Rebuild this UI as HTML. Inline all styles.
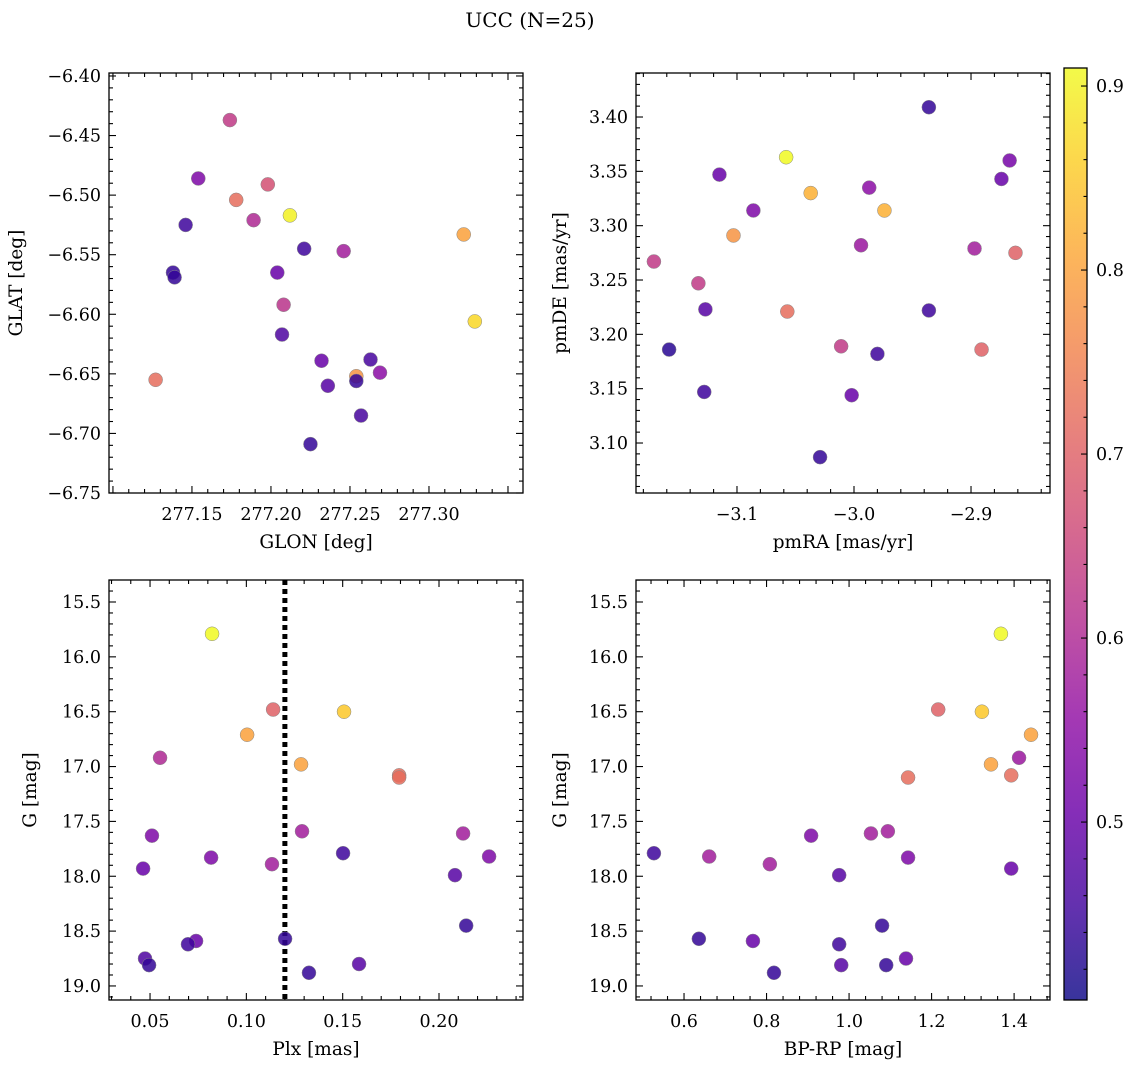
<!DOCTYPE html>
<html><head><meta charset="utf-8">
<style>
html,body{margin:0;padding:0;background:#fff;}
svg{display:block;font-family:"DejaVu Serif","Liberation Serif",serif;}
</style></head>
<body>
<svg id="fig" width="1136" height="1068" xmlns="http://www.w3.org/2000/svg">
<text x="530" y="27" font-size="20" text-anchor="middle">UCC (N=25)</text>
</svg>
<script>
// Panel 1: GLON vs GLAT
const glon = [277.174,277.154,277.178,277.198,277.189,277.212,277.146,277.138,277.139,277.221,277.246,277.322,277.204,277.208,277.207,277.329,277.127,277.232,277.263,277.254,277.269,277.254,277.236,277.257,277.225];
const glat = [-6.437,-6.486,-6.504,-6.491,-6.521,-6.517,-6.525,-6.565,-6.569,-6.545,-6.547,-6.533,-6.565,-6.592,-6.617,-6.606,-6.655,-6.639,-6.638,-6.652,-6.649,-6.656,-6.660,-6.685,-6.709];
const prob1 = [0.63,0.53,0.72,0.67,0.60,0.90,0.45,0.44,0.44,0.45,0.58,0.80,0.50,0.62,0.47,0.87,0.72,0.50,0.46,0.78,0.55,0.44,0.48,0.46,0.44];
// Panel 2: pmRA vs pmDE
const pmra = [-2.936,-3.058,-2.867,-3.115,-2.874,-2.987,-3.037,-3.086,-2.974,-3.103,-2.994,-2.897,-2.862,-3.171,-3.133,-3.127,-3.057,-2.936,-3.158,-3.011,-2.980,-2.891,-3.128,-3.002,-3.029];
const pmde = [3.409,3.363,3.360,3.347,3.343,3.335,3.330,3.314,3.314,3.291,3.282,3.279,3.275,3.267,3.247,3.223,3.221,3.222,3.186,3.189,3.182,3.186,3.147,3.144,3.087];
const prob2 = [0.44,0.91,0.52,0.50,0.50,0.55,0.82,0.53,0.82,0.78,0.57,0.58,0.70,0.63,0.63,0.48,0.72,0.45,0.43,0.63,0.45,0.70,0.45,0.50,0.44];
// Panel 3: Plx vs G
const plx = [0.0822,0.1139,0.1004,0.1507,0.0552,0.1284,0.1793,0.1793,0.0510,0.1289,0.2125,0.1502,0.0464,0.0817,0.1133,0.2083,0.2260,0.2141,0.1201,0.0739,0.0697,0.0474,0.0495,0.1325,0.1585];
const gmag3 = [15.79,16.48,16.71,16.50,16.92,16.98,17.08,17.10,17.63,17.59,17.61,17.79,17.93,17.83,17.89,17.99,17.82,18.45,18.57,18.59,18.62,18.75,18.81,18.88,18.80];
const prob3 = [0.91,0.70,0.80,0.85,0.60,0.80,0.72,0.72,0.53,0.58,0.58,0.45,0.50,0.53,0.58,0.48,0.53,0.44,0.44,0.50,0.45,0.47,0.44,0.44,0.48];
const plxLine = 0.12;
// Panel 4: BP-RP vs G
const bprp = [1.368,1.216,1.322,1.441,1.412,1.344,1.393,1.143,0.908,1.053,1.094,0.527,0.661,0.808,1.143,1.393,0.976,1.080,0.636,0.767,0.976,1.138,0.981,1.090,0.818];
const gmag4 = [15.79,16.48,16.50,16.71,16.92,16.98,17.08,17.10,17.63,17.61,17.59,17.79,17.82,17.89,17.83,17.93,17.99,18.45,18.57,18.59,18.62,18.75,18.81,18.81,18.88];
const prob4 = [0.91,0.70,0.85,0.80,0.57,0.80,0.72,0.72,0.53,0.58,0.58,0.45,0.58,0.58,0.53,0.50,0.48,0.44,0.44,0.50,0.45,0.50,0.48,0.44,0.44];
// Tick labels
const ticks1x = [277.15,277.20,277.25,277.30];
const ticks1y = [-6.40,-6.45,-6.50,-6.55,-6.60,-6.65,-6.70,-6.75];
const ticks2x = [-3.1,-3.0,-2.9];
const ticks2y = [3.10,3.15,3.20,3.25,3.30,3.35,3.40];
const ticks3x = [0.05,0.10,0.15,0.20];
const ticksGy = [15.5,16.0,16.5,17.0,17.5,18.0,18.5,19.0];
const ticks4x = [0.6,0.8,1.0,1.2,1.4];
const cbTicks = [0.5,0.6,0.7,0.8,0.9];
const cmin = 0.4033, cmax = 0.9098;

const NS = "http://www.w3.org/2000/svg";
const svg = document.getElementById('fig');
const TF = 17.5, LF = 18.5;
function el(tag, attrs, parent){
  const e = document.createElementNS(NS, tag);
  for (const k in attrs) e.setAttribute(k, attrs[k]);
  (parent||svg).appendChild(e);
  return e;
}
const plasma = [[13,8,135],[65,4,157],[106,0,168],[143,13,164],[177,42,144],[204,71,120],[225,100,98],[242,132,75],[252,166,54],[252,206,37],[240,249,33]];
function cmap(v){
  let t = (v-cmin)/(cmax-cmin); t = Math.max(0,Math.min(1,t))*10;
  const i = Math.min(9,Math.floor(t)), f = t-i;
  const a = plasma[i], b = plasma[i+1];
  return 'rgb('+a.map((c,j)=>Math.round(c+(b[j]-c)*f)).join(',')+')';
}
function fmt(v,d){ return v.toFixed(d).replace('-','\u2212'); }

function panel(o){
  const sx = v => o.x0 + (v-o.xmin)/(o.xmax-o.xmin)*(o.x1-o.x0);
  const sy = v => o.invert ? o.y0 + (v-o.ymin)/(o.ymax-o.ymin)*(o.y1-o.y0)
                           : o.y1 - (v-o.ymin)/(o.ymax-o.ymin)*(o.y1-o.y0);
  const g = el('g', {});
  
  
  const xs = Math.ceil(o.xmin/o.xminor-1e-6), xe = Math.floor(o.xmax/o.xminor+1e-6);
  for (let k=xs;k<=xe;k++){
    const v=k*o.xminor, px=sx(v);
    const major = Math.abs(v/o.xmajor - Math.round(v/o.xmajor))<1e-6;
    const L = major?7:4;
    el('line',{x1:px,x2:px,y1:o.y1,y2:o.y1-L,stroke:'#000','stroke-width':1.1},g);
    el('line',{x1:px,x2:px,y1:o.y0,y2:o.y0+L,stroke:'#000','stroke-width':1.1},g);
  }
  const ys = Math.ceil(Math.min(o.ymin,o.ymax)/o.yminor-1e-6), ye = Math.floor(Math.max(o.ymin,o.ymax)/o.yminor+1e-6);
  for (let k=ys;k<=ye;k++){
    const v=k*o.yminor, py=sy(v);
    const major = Math.abs(v/o.ymajor - Math.round(v/o.ymajor))<1e-6;
    const L = major?7:4;
    el('line',{x1:o.x0,x2:o.x0+L,y1:py,y2:py,stroke:'#000','stroke-width':1.1},g);
    el('line',{x1:o.x1,x2:o.x1-L,y1:py,y2:py,stroke:'#000','stroke-width':1.1},g);
  }
  o.xt.forEach(v=>{
    const t = el('text',{x:sx(v),y:o.y1+27,'font-size':TF,'text-anchor':'middle'},g);
    t.textContent = fmt(v,o.xd);
    
    
  });
  o.yt.forEach(v=>{
    const t = el('text',{x:o.x0-8,y:sy(v)+6,'font-size':TF,'text-anchor':'end'},g);
    t.textContent = fmt(v,o.yd);
    
    
  });
  const xl = el('text',{x:(o.x0+o.x1)/2,y:o.y1+55,'font-size':LF,'text-anchor':'middle'},g);
  xl.textContent = o.xlabel;
  
  
  const yx = o.ylx, yy=(o.y0+o.y1)/2;
  const yl = el('text',{x:yx,y:yy,'font-size':LF,'text-anchor':'middle',transform:'rotate(-90 '+yx+' '+yy+')'},g);
  yl.textContent = o.ylabel;
  
  
  if (o.vline !== undefined){
    const ln = el('line',{x1:sx(o.vline),x2:sx(o.vline),y1:o.y0,y2:o.y1,stroke:'#000','stroke-width':5,'stroke-dasharray':'5,4'},g);
    
    
  }
  for (let i=0;i<o.xs.length;i++){
    const c = el('circle',{cx:sx(o.xs[i]),cy:sy(o.ys[i]),r:7,fill:cmap(o.cs[i]),'fill-opacity':0.85,stroke:'#888','stroke-width':0.5},g);
    
    
  }
  const fr = el('rect',{x:o.x0,y:o.y0,width:o.x1-o.x0,height:o.y1-o.y0,fill:'none',stroke:'#000','stroke-width':1.3},g);
  
  
}

panel({name:'glon-glat-panel',x0:109,x1:523,y0:73,y1:493,xmin:277.0975,xmax:277.3595,ymin:-6.75,ymax:-6.3975,xmajor:0.05,xminor:0.01,ymajor:0.05,yminor:0.01,xt:ticks1x,yt:ticks1y,xd:2,yd:2,xlabel:'GLON [deg]',ylabel:'GLAT [deg]',ylx:22,xs:glon,ys:glat,cs:prob1});
panel({name:'pm-panel',x0:636,x1:1050,y0:73,y1:493,xmin:-3.1863,xmax:-2.8325,ymin:3.054,ymax:3.4405,xmajor:0.1,xminor:0.02,ymajor:0.05,yminor:0.01,xt:ticks2x,yt:ticks2y,xd:1,yd:2,xlabel:'pmRA [mas/yr]',ylabel:'pmDE [mas/yr]',ylx:566,xs:pmra,ys:pmde,cs:prob2});
panel({name:'plx-g-panel',x0:109,x1:523,y0:580,y1:1000,xmin:0.0287,xmax:0.2436,ymin:15.2995,ymax:19.128,invert:true,xmajor:0.05,xminor:0.01,ymajor:0.5,yminor:0.1,xt:ticks3x,yt:ticksGy,xd:2,yd:1,xlabel:'Plx [mas]',ylabel:'G [mag]',ylx:36,xs:plx,ys:gmag3,cs:prob3,vline:plxLine});
panel({name:'cmd-panel',x0:636,x1:1050,y0:580,y1:1000,xmin:0.4836,xmax:1.487,ymin:15.2995,ymax:19.128,invert:true,xmajor:0.2,xminor:0.04,ymajor:0.5,yminor:0.1,xt:ticks4x,yt:ticksGy,xd:1,yd:1,xlabel:'BP-RP [mag]',ylabel:'G [mag]',ylx:566,xs:bprp,ys:gmag4,cs:prob4});

(function(){
  const x0=1064,x1=1087,y0=68,y1=1000;
  const g = el('g',{});
  
  
  const defs = el('defs',{},g);
  const lg = el('linearGradient',{id:'cbg',x1:0,y1:1,x2:0,y2:0},defs);
  plasma.forEach((c,i)=>el('stop',{offset:(i/10),'stop-color':'rgb('+c.join(',')+')'},lg));
  el('rect',{x:x0,y:y0,width:x1-x0,height:y1-y0,fill:'url(#cbg)','fill-opacity':0.82},g);
  const sy = v => y1 - (v-cmin)/(cmax-cmin)*(y1-y0);
  for (let k=21;k<=45;k++){
    const v=k*0.02, py=sy(v);
    if (py<y0||py>y1) continue;
    const major = (k%5===0);
    el('line',{x1:x1,x2:x1-(major?6:3.5),y1:py,y2:py,stroke:'#000','stroke-width':1.1},g);
  }
  cbTicks.forEach(v=>{
    const t = el('text',{x:x1+9,y:sy(v)+6,'font-size':TF},g);
    t.textContent = v.toFixed(1);
    
    
  });
  el('rect',{x:x0,y:y0,width:x1-x0,height:y1-y0,fill:'none',stroke:'#000','stroke-width':1.3},g);
})();
</script>
</body></html>
